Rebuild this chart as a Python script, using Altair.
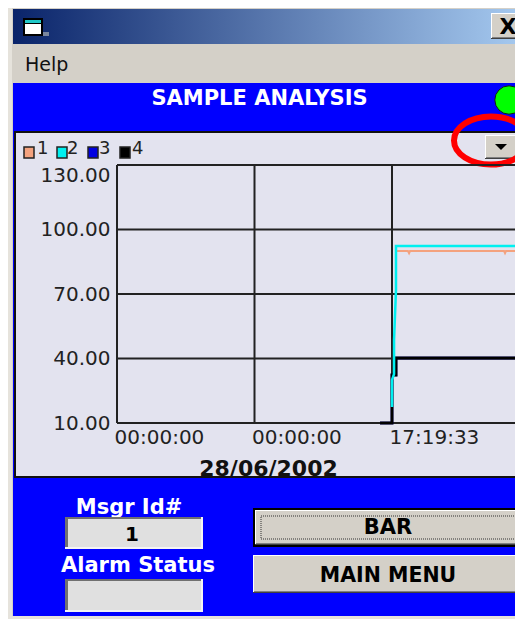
import json
import altair as alt
import pandas as pd

# ---- chart values -------------------------------------------------
x_ticks = [0, 1, 2]
x_tick_labels = ["00:00:00", "00:00:00", "17:19:33"]
y_ticks = [10, 40, 70, 100, 130]
date_label = "28/06/2002"

series_names = ["1", "2", "3", "4"]
series_colors = ["#F4A27E", "#00F0F0", "#0000E0", "#000000"]

s1_x = [2.029, 2.029, 2.116, 2.124, 2.131, 2.815, 2.822, 2.829, 2.895]
s1_y = [70.9, 90.0, 90.0, 89.0, 90.0, 90.0, 89.0, 90.0, 90.0]
s2_x = [2.0, 2.0, 2.015, 2.015, 2.029, 2.029, 2.895]
s2_y = [17.4, 30.0, 32.8, 48.6, 71.9, 92.3, 92.3]
s3_x = [1.913, 2.0, 2.0, 2.029, 2.029, 2.895]
s3_y = [10.0, 10.0, 32.3, 32.3, 40.2, 40.2]
s4_x = [1.913, 2.0, 2.0, 2.029, 2.029, 2.895]
s4_y = [10.0, 10.0, 32.3, 32.3, 40.2, 40.2]

# ---- geometry of the plot inside the page ---------------------------
ORIGIN_X, ORIGIN_Y = 117, 165
PLOT_W, PLOT_H = 398, 258
x_scale = alt.Scale(domain=[0, PLOT_W / 137.5], nice=False, zero=False)
y_scale = alt.Scale(domain=[10, 130], nice=False, zero=False)

one = alt.Data(values=[{"k": 1}])
FONT = "DejaVu Sans"
GRID = "#222222"
FACE = "#D4D0C8"


def px(v):
    return v - ORIGIN_X


def py(v):
    return v - ORIGIN_Y


def box(x0, y0, x1, y1, fill, **kw):
    return alt.Chart(one).mark_rect(fill=fill, **kw).encode(
        x=alt.value(px(x0)), x2=alt.value(px(x1)),
        y=alt.value(py(y0)), y2=alt.value(py(y1)))


def label(text, x, y, size, color="#000000", bold=True, align="center"):
    return alt.Chart(one).mark_text(
        text=text, font=FONT, fontSize=size, color=color,
        fontWeight="bold" if bold else "normal", align=align, baseline="middle"
    ).encode(x=alt.value(px(x)), y=alt.value(py(y + 1.5)))


def raised(x0, y0, x1, y1):
    return [box(x0, y0, x1, y1, "#404040"),
            box(x0, y0, x1 - 1, y1 - 1, "#FFFFFF"),
            box(x0 + 1, y0 + 1, x1 - 1, y1 - 1, "#808080"),
            box(x0 + 1, y0 + 1, x1 - 2, y1 - 2, FACE)]


def sunken(x0, y0, x1, y1):
    return [box(x0, y0, x1, y1, "#F4F4F4"),
            box(x0, y0, x1 - 2, y1 - 2, "#707070"),
            box(x0 + 3, y0 + 2, x1 - 2, y1 - 2, "#E0E0E0")]


layers = []
# window frame, title bar, menu, blue background
layers += [
    box(8, 8, 523, 619, "#E6E3DC"),
    box(12, 8, 523, 616, FACE),
    alt.Chart(one).mark_rect(fill=alt.LinearGradient(
        gradient="linear", x1=0, x2=1, y1=0, y2=0,
        stops=[alt.GradientStop(color="#0A246A", offset=0),
               alt.GradientStop(color="#A6CAF0", offset=1)])).encode(
        x=alt.value(px(13)), x2=alt.value(px(523)),
        y=alt.value(py(9)), y2=alt.value(py(44))),
    box(13, 83, 523, 616, "#0000FF"),
    box(14, 131, 523, 478, "#111111"),
    box(16, 133, 523, 476, "#E3E3EF"),
]
# window icon
layers += [
    box(23, 18, 43, 36, "#000000"),
    box(25, 24, 41, 34, "#FFFFFF"),
    box(25, 20, 41, 23, "#20C8C8"),
    box(43, 32, 49, 36, "#7A869E"),
]
# close button
layers += raised(491, 13, 525, 39)
layers.append(label("X", 508, 25, 22))
layers.append(label("Help", 25, 63, 19, "#111111", bold=False, align="left"))
layers.append(label("SAMPLE ANALYSIS", 259.5, 97, 21, "#FFFFFF"))
# status lamp
layers.append(alt.Chart(one).mark_point(
    shape="circle", filled=True, fill="#00FF00", stroke="#102010", strokeWidth=1,
    size=804, opacity=1).encode(x=alt.value(px(509)), y=alt.value(py(100))))
# dropdown button
layers += raised(485, 135, 517, 159)
layers.append(alt.Chart(one).mark_point(
    shape="M-1,-0.5L1,-0.5L0,0.5Z", filled=True, fill="#000000", size=144, opacity=1
).encode(x=alt.value(px(501)), y=alt.value(py(147))))
# legend
legend_box_x = [24, 57, 88, 120]
legend_text_x = [37, 67, 99, 132]
for name, col, bx, tx in zip(series_names, series_colors, legend_box_x, legend_text_x):
    layers.append(box(bx, 147, bx + 10, 158, col, stroke="#222222", strokeWidth=1.5))
    layers.append(label(name, tx, 147, 18, "#222222", bold=False, align="left"))

# lower controls
layers.append(label("Msgr Id#", 129, 506, 21, "#FFFFFF"))
layers += sunken(65, 517, 203, 549)
layers.append(label("1", 132, 533, 20))
layers.append(label("Alarm Status", 138, 564, 21, "#FFFFFF"))
layers += sunken(65, 579, 203, 612)
layers.append(box(253, 508, 525, 547, "#000000"))
layers += raised(255, 510, 525, 545)
layers.append(box(261, 516, 519, 539, "transparent", stroke="#333333",
                  strokeWidth=1, strokeDash=[1, 1]))
layers.append(label("BAR", 388, 526, 21))
layers += raised(253, 555, 525, 593)
layers.append(label("MAIN MENU", 388, 574, 20.5))

# highlight ellipse
layers.append(alt.Chart(one).mark_point(
    shape="M-1,0A1,0.65,0,1,1,1,0A1,0.65,0,1,1,-1,0Z",
    filled=False, stroke="#FF0000", strokeWidth=6, size=5476, opacity=1
).encode(x=alt.value(px(491)), y=alt.value(py(140.5))))

# grid and axes
label_expr = json.dumps(x_tick_labels) + "[datum.value]"
x_axis = alt.Axis(
    values=x_ticks, labelExpr=label_expr, title=date_label, grid=False, domain=False,
    ticks=False, labelFont=FONT, labelFontSize=20, labelColor="#222222",
    labelAlign="left", labelBaseline="middle", labelPadding=14, labelOffset=-3,
    labelOverlap=False, labelFlush=False, labelBound=False,
    titleFont=FONT, titleFontSize=22, titleFontWeight="bold", titleColor="#111111",
    titleAnchor="start", titleX=151, titleY=45, titleAlign="center",
    titleBaseline="middle", zindex=1)
y_axis = alt.Axis(
    values=y_ticks, format=".2f", title=None, grid=False, domain=False, ticks=False,
    labelFont=FONT, labelFontSize=20, labelColor="#222222", labelPadding=7,
    labelOverlap=False, labelFlush=False, labelBound=False,
    labelBaseline={"condition": {"test": "datum.value == 130", "value": "top"},
                   "value": "middle"}, zindex=1)

layers.append(alt.Chart(pd.DataFrame({"v": x_ticks})).mark_rule(
    color=GRID, strokeWidth=2).encode(
    x=alt.X("v:Q", scale=x_scale, axis=x_axis)))
layers.append(alt.Chart(pd.DataFrame({"v": y_ticks})).mark_rule(
    color=GRID, strokeWidth=2).encode(
    y=alt.Y("v:Q", scale=y_scale, axis=y_axis)))

# series, drawn so that the same parts stay on top as in the reference
draw = [(s1_x, s1_y, 0, 2), (s3_x, s3_y, 2, 2.5), (s4_x, s4_y, 3, 3), (s2_x, s2_y, 1, 2.5)]
for xs, ys, idx, w in draw:
    df = pd.DataFrame({"x": xs, "y": ys, "i": range(len(xs))})
    layers.append(alt.Chart(df).mark_line(
        color=series_colors[idx], strokeWidth=w, strokeJoin="miter").encode(
        x=alt.X("x:Q", scale=x_scale, axis=x_axis),
        y=alt.Y("y:Q", scale=y_scale, axis=y_axis),
        order="i:Q"))

chart = alt.layer(*layers).properties(
    width=PLOT_W, height=PLOT_H, background="white",
    padding={"left": ORIGIN_X - 8, "top": ORIGIN_Y - 8, "right": 0, "bottom": 196},
    autosize=alt.AutoSizeParams(type="none"),
).configure_view(stroke=None, fill=None)

chart.save("out.html", embed_options={"renderer": "svg", "actions": False})
